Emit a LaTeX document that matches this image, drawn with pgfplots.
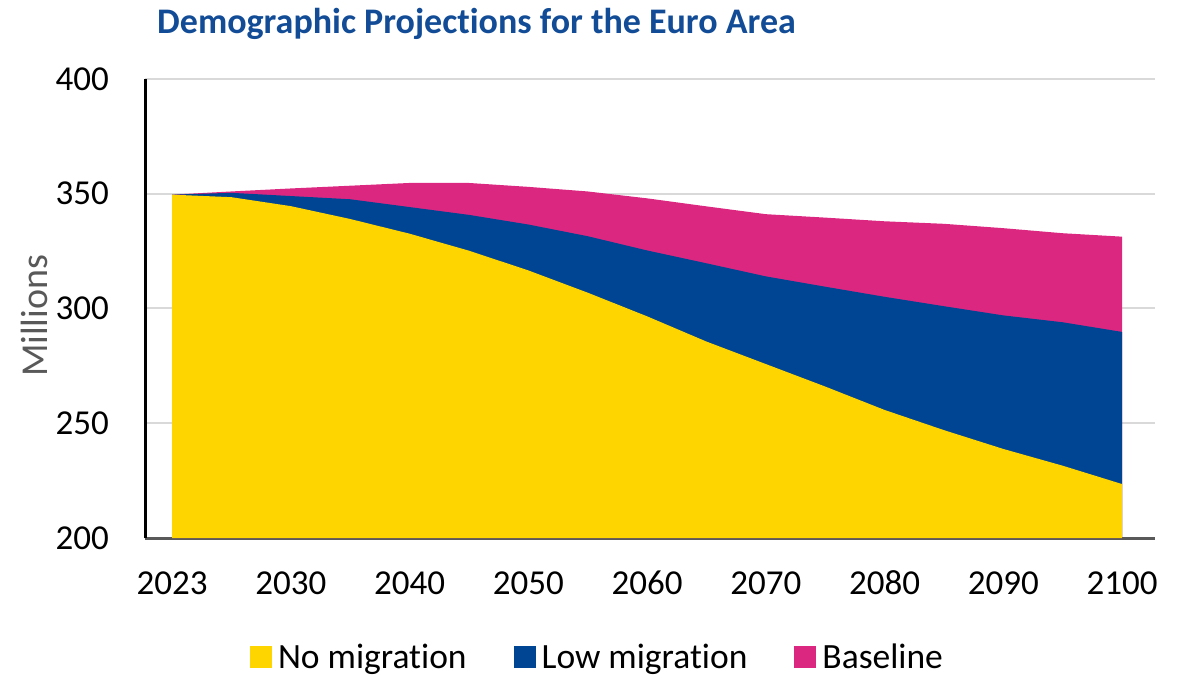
\documentclass[border=0pt]{standalone}
\usepackage{fontspec}
\setmainfont{Carlito}[RawFeature=-liga]
\usepackage{pgfplots}
\pgfplotsset{compat=1.18}
\definecolor{cyel}{RGB}{255,213,0}
\definecolor{cblue}{RGB}{0,69,148}
\definecolor{cpink}{RGB}{220,39,128}
\definecolor{ctitle}{RGB}{18,76,150}
\definecolor{caxis}{RGB}{89,89,89}
\definecolor{cgrid}{RGB}{217,217,217}
\begin{document}
\begin{tikzpicture}
\useasboundingbox (0,0) rectangle (1189pt,675pt);
\begin{axis}[
  at={(145pt,137pt)}, anchor=south west,
  scale only axis, width=1010pt, height=459pt,
  xmin=-0.455, xmax=16.555, ymin=200, ymax=400,
  xtick={0,2,4,6,8,10,12,14,16},
  xticklabels={2023,2030,2040,2050,2060,2070,2080,2090,2100},
  ytick={200,250,300,350,400},
  yticklabels={200,250,300,350,400},
  major tick length=0pt,
  ymajorgrids, major grid style={line width=2pt, cgrid},
  axis x line*=bottom, axis y line*=left,
  x axis line style={-, line width=3pt, caxis},
  y axis line style={-, line width=3pt, black},
  tick label style={font=\fontsize{35}{42}\selectfont, black},
  xticklabel style={anchor=base, inner sep=0pt, yshift=-56pt},
  yticklabel style={anchor=east, inner sep=0pt, xshift=-36pt},
  ylabel={Millions},
  ylabel style={at={(axis description cs:-0.1099,0.484)}, anchor=center, font=\fontsize{38}{44}\selectfont, caxis},
  title={Demographic Projections for the Euro Area},
  title style={at={(axis description cs:0.0119,1.085)}, anchor=base west, inner sep=0pt, font=\fontsize{36}{42}\selectfont\bfseries, ctitle},
  reverse legend,
  legend columns=-1,
  legend image code/.code={\fill[#1] (0pt,-11pt) rectangle (22pt,11pt);},
  legend style={at={(axis description cs:0.447,-0.259)}, anchor=center, draw=none, fill=none,
    font=\fontsize{35.5}{42}\selectfont, inner sep=0pt,
    nodes={inner sep=0pt},
    /tikz/every odd column/.append style={column sep=6pt},
    /tikz/every even column/.append style={column sep=47pt}},
]
\addplot[fill=cpink, draw=none] table {
x y
0 349.6
1 351.0
2 352.3
3 353.5
4 354.7
5 354.7
6 353.0
7 351.0
8 348.0
9 344.5
10 341.1
11 339.6
12 338.0
13 336.9
14 335.0
15 332.8
16 331.3
} \closedcycle;
\addlegendentry{Baseline}
\addplot[fill=cblue, draw=none] table {
x y
0 349.6
1 350.4
2 349.0
3 347.6
4 344.2
5 340.8
6 336.6
7 331.5
8 325.3
9 319.7
10 314.0
11 309.5
12 305.1
13 301.0
14 297.0
15 294.0
16 289.8
} \closedcycle;
\addlegendentry{Low migration}
\addplot[fill=cyel, draw=none] table {
x y
0 349.6
1 348.5
2 344.6
3 339.0
4 332.6
5 325.2
6 316.6
7 306.9
8 296.6
9 285.6
10 275.8
11 266.0
12 255.8
13 247.0
14 238.8
15 231.5
16 223.5
} \closedcycle;
\addlegendentry{No migration}
\end{axis}
\end{tikzpicture}
\end{document}
